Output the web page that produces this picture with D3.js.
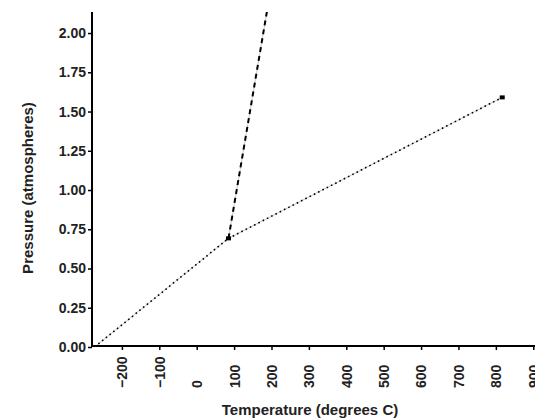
<!DOCTYPE html>
<html>
<head>
<meta charset="utf-8">
<script src="https://cdn.jsdelivr.net/npm/d3@7"></script>
<style>
  body { margin: 0; background: #fff; }
  svg { display: block; }
  .axis text { font-family: "Liberation Sans", Arial, sans-serif; font-weight: bold; font-size: 14px; fill: #222; }
  .title { font-family: "Liberation Sans", Arial, sans-serif; font-weight: bold; font-size: 15px; fill: #222; }
</style>
</head>
<body>
<svg id="chart" width="535" height="420"></svg>
<script>
// data
const lowLine = [[-273, 0], [85, 0.692]]          // dotted, below the junction
const flatLine = [[85, 0.692], [817, 1.59]]       // dotted, to the end point
const steepLine = [[85, 0.692], [188, 2.14]]      // dashed, runs off the top
const markers = [[85, 0.692], [817, 1.59]]
const xTicks = [-200, -100, 0, 100, 200, 300, 400, 500, 600, 700, 800, 900]
const yTicks = [0, 0.25, 0.5, 0.75, 1, 1.25, 1.5, 1.75, 2]

const svg = d3.select("#chart")

let x = d3.scaleLinear().domain([-280, 910]).range([92, 537])
let y = d3.scaleLinear().domain([0, 2.134]).range([347, 12])

//clip the lines to the plot box
svg.append("clipPath").attr("id", "plot")
  .append("rect")
  .attr("x", 92).attr("y", 12)
  .attr("width", 445).attr("height", 335)

let line = d3.line().x(d => x(d[0])).y(d => y(d[1]))
let plot = svg.append("g").attr("clip-path", "url(#plot)")

//thin grey line under each dash pattern
function drawLine(data, dash, width) {
  plot.append("path")
    .datum(data)
    .attr("fill", "none")
    .attr("stroke", "#c8c8c8")
    .attr("stroke-width", 1)
    .attr("d", line)
  plot.append("path")
    .datum(data)
    .attr("fill", "none")
    .attr("stroke", "#000")
    .attr("stroke-width", width)
    .attr("stroke-dasharray", dash)
    .attr("d", line)
}

drawLine(lowLine, "1.6,3.2", 1.6)
drawLine(flatLine, "1.6,3.2", 1.6)
drawLine(steepLine, "5,4", 2)

svg.append("g")
  .selectAll("rect")
  .data(markers)
  .join("rect")
  .attr("x", d => x(d[0]) - 2.5)
  .attr("y", d => y(d[1]) - 2)
  .attr("width", 5)
  .attr("height", 4)
  .attr("fill", "#000")

//y axis
let yAxis = svg.append("g")
  .attr("class", "axis")
  .attr("transform", "translate(92,0)")
  .call(d3.axisLeft(y).tickValues(yTicks).tickFormat(d3.format(".2f")).tickSize(4).tickPadding(2))
yAxis.select(".domain").attr("stroke-width", 2).attr("d", "M0,12V347")
yAxis.selectAll(".tick line").attr("stroke-width", 1.5)

//x axis, labels rotated and set from the bottom up
let xAxis = svg.append("g")
  .attr("class", "axis")
  .attr("transform", "translate(0,346)")
  .call(d3.axisBottom(x).tickValues(xTicks).tickFormat(d3.format("d")).tickSize(4))
xAxis.select(".domain").attr("stroke-width", 2).attr("d", "M91,0H537")
xAxis.selectAll(".tick line").attr("stroke-width", 1.5)
xAxis.selectAll(".tick text")
  .attr("transform", "translate(0,42) rotate(-90)")
  .attr("text-anchor", "start")
  .attr("x", 0)
  .attr("y", 0)
  .attr("dy", "0.35em")

svg.append("text")
  .attr("class", "title")
  .attr("x", 310)
  .attr("y", 415)
  .attr("text-anchor", "middle")
  .text("Temperature (degrees C)")

svg.append("text")
  .attr("class", "title")
  .attr("transform", "translate(33,188) rotate(-90)")
  .attr("text-anchor", "middle")
  .text("Pressure (atmospheres)")
</script>
</body>
</html>
